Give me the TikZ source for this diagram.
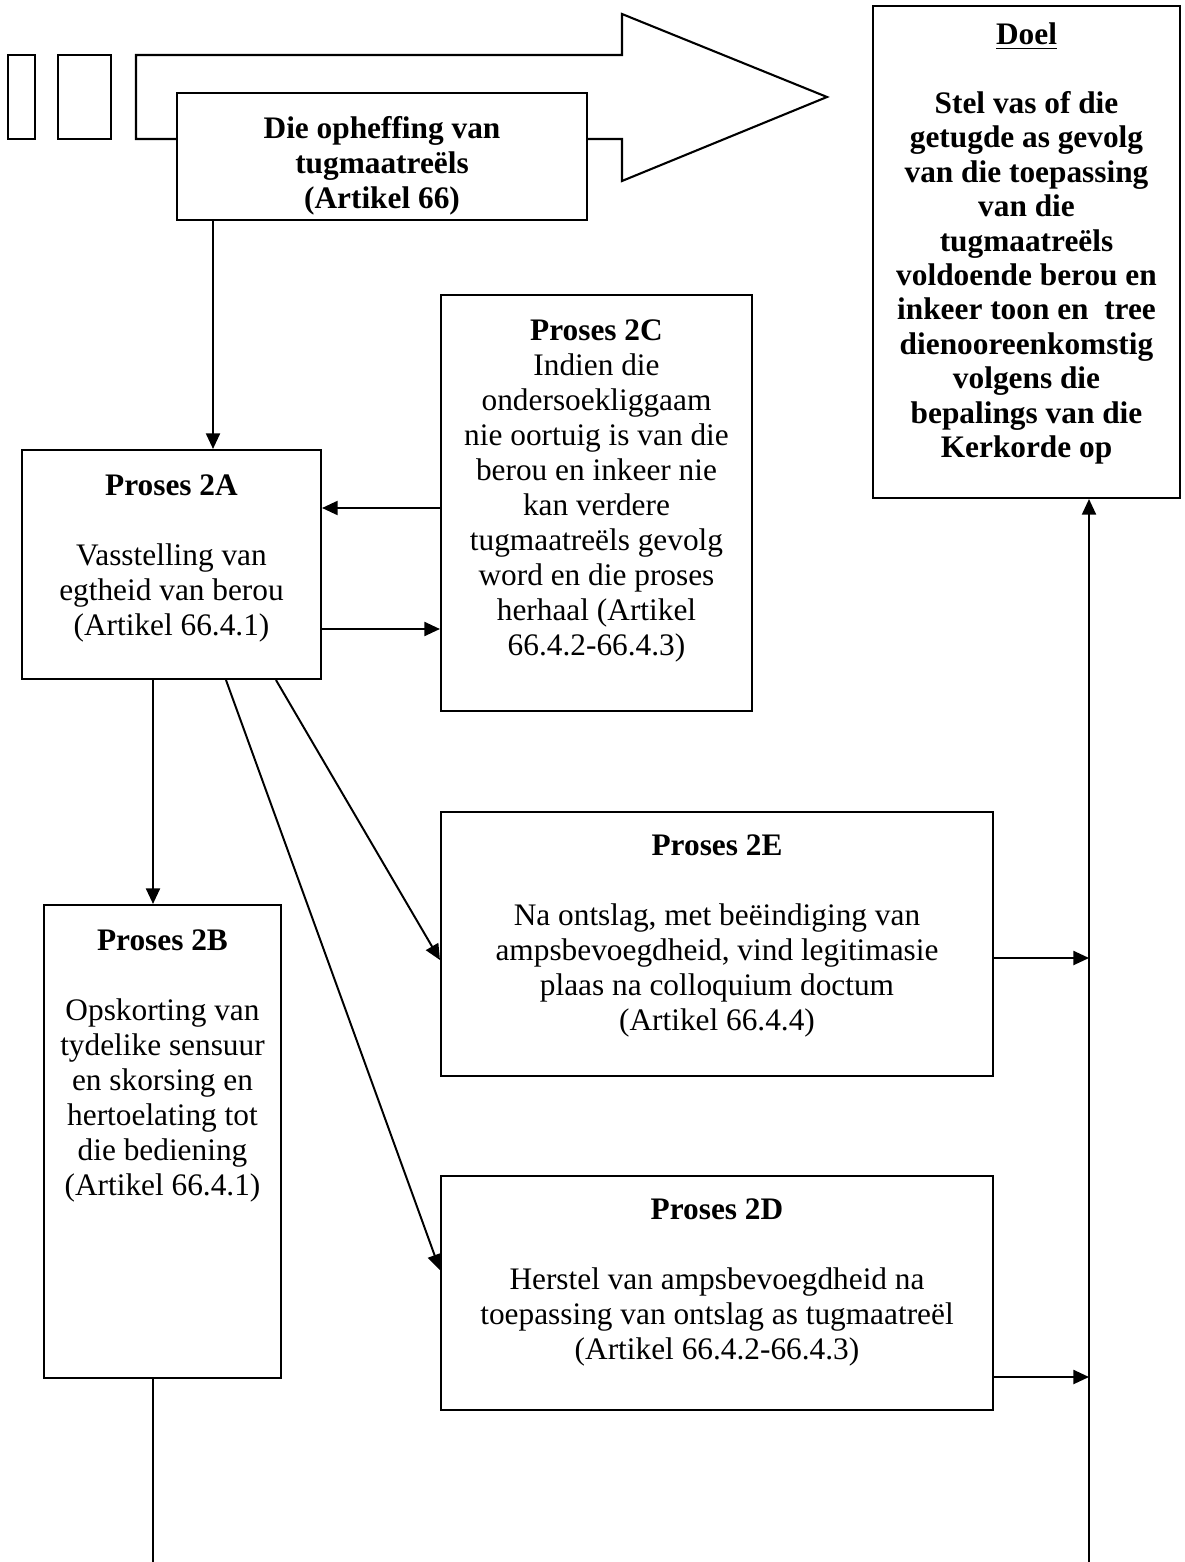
\documentclass[tikz,border=0pt]{standalone}
\usepackage{fontspec}
\setmainfont{Liberation Serif}
\usetikzlibrary{arrows.meta,fit}
\begin{document}
\begin{tikzpicture}[x=0.383pt,y=-0.383pt,
  box/.style={draw,line width=0.8pt,fill=white,inner sep=0pt},
  txt/.style={align=center,inner sep=0pt,anchor=north,font=\fontsize{12}{13.4}\selectfont},
  arr/.style={line width=0.75pt,-{Triangle[length=6pt,width=5.4pt]}},
  ln/.style={line width=0.75pt},
  shp/.style={line width=0.8pt}]
\useasboundingbox (0,0) rectangle (1185,1562);

% striped arrow
\draw[shp] (8,55) rectangle (35,139);
\draw[shp] (58,55) rectangle (111,139);
\draw[shp] (136,55) -- (622,55) -- (622,14) -- (827,97) -- (622,181) -- (622,139) -- (136,139) -- cycle;

% helper coordinates
\coordinate (x213) at (213,0);
\coordinate (x153) at (153,0);
\coordinate (x276) at (276,0);
\coordinate (x226) at (226,0);
\coordinate (y508) at (0,508);
\coordinate (y629) at (0,629);
\coordinate (y960) at (0,960);
\coordinate (y1270) at (0,1270);
\coordinate (y958) at (0,958);
\coordinate (y1377) at (0,1377);
\coordinate (vl) at (1089,1562);
\coordinate (bl) at (153,1562);

% box corners
\coordinate (b0a) at (177,93);  \coordinate (b0b) at (587,220);
\coordinate (ga) at (873,6);    \coordinate (gb) at (1180,498);
\coordinate (ca) at (441,295);  \coordinate (cb) at (752,711);
\coordinate (aa) at (22,450);   \coordinate (ab) at (321,679);
\coordinate (ea) at (441,812);  \coordinate (eb) at (993,1076);
\coordinate (da) at (441,1176); \coordinate (db) at (993,1410);
\coordinate (ba) at (44,905);   \coordinate (bb) at (281,1378);

\node[box,fit=(b0a)(b0b)] (nT) {};
\node[box,fit=(ga)(gb)] (nG) {};
\node[box,fit=(ca)(cb)] (nC) {};
\node[box,fit=(aa)(ab)] (nA) {};
\node[box,fit=(ea)(eb)] (nE) {};
\node[box,fit=(da)(db)] (nD) {};
\node[box,fit=(ba)(bb)] (nB) {};

% texts
\node[txt,font=\fontsize{12}{13.4}\selectfont\bfseries] (tT) at (382,116)
  {Die opheffing van\\tugmaatreëls\\(Artikel 66)};
\node[txt,font=\fontsize{12}{13.2}\selectfont\bfseries] (tG) at (1026.5,22)
  {\underline{Doel}\\[13.2pt]Stel vas of die\\getugde as gevolg\\van die toepassing\\van die\\tugmaatreëls\\voldoende berou en\\inkeer toon en~ tree\\dienooreenkomstig\\volgens die\\bepalings van die\\Kerkorde op};
\node[txt] (tC) at (596.5,319)
  {\textbf{Proses 2C}\\Indien die\\ondersoekliggaam\\nie oortuig is van die\\berou en inkeer nie\\kan verdere\\tugmaatreëls gevolg\\word en die proses\\herhaal (Artikel\\66.4.2-66.4.3)};
\node[txt] (tA) at (171.5,474)
  {\textbf{Proses 2A}\\[13.4pt]Vasstelling van\\egtheid van berou\\(Artikel 66.4.1)};
\node[txt] (tE) at (717,834)
  {\textbf{Proses 2E}\\[13.4pt]Na ontslag, met beëindiging van\\ampsbevoegdheid, vind legitimasie\\plaas na colloquium doctum\\(Artikel 66.4.4)};
\node[txt] (tD) at (717,1198)
  {\textbf{Proses 2D}\\[13.4pt]Herstel van ampsbevoegdheid na\\toepassing van ontslag as tugmaatreël\\(Artikel 66.4.2-66.4.3)};
\node[txt] (tB) at (162.5,929)
  {\textbf{Proses 2B}\\[13.4pt]Opskorting van\\tydelike sensuur\\en skorsing en\\hertoelating tot\\die bediening\\(Artikel 66.4.1)};

% connectors
\draw[arr] (nT.south -| x213) -- (nA.north -| x213);
\draw[arr] (nC.west |- y508) -- (nA.east |- y508);
\draw[arr] (nA.east |- y629) -- (nC.west |- y629);
\draw[arr] (nA.south -| x153) -- (nB.north -| x153);
\draw[arr] (nA.south -| x276) -- (nE.west |- y960);
\draw[arr] (nA.south -| x226) -- (nD.west |- y1270);
\draw[arr] (nE.east |- y958) -- (vl |- y958);
\draw[arr] (nD.east |- y1377) -- (vl |- y1377);
\draw[arr] (vl) -- (nG.south -| vl);
\draw[ln] (nB.south -| x153) -- (bl);
\end{tikzpicture}
\end{document}
